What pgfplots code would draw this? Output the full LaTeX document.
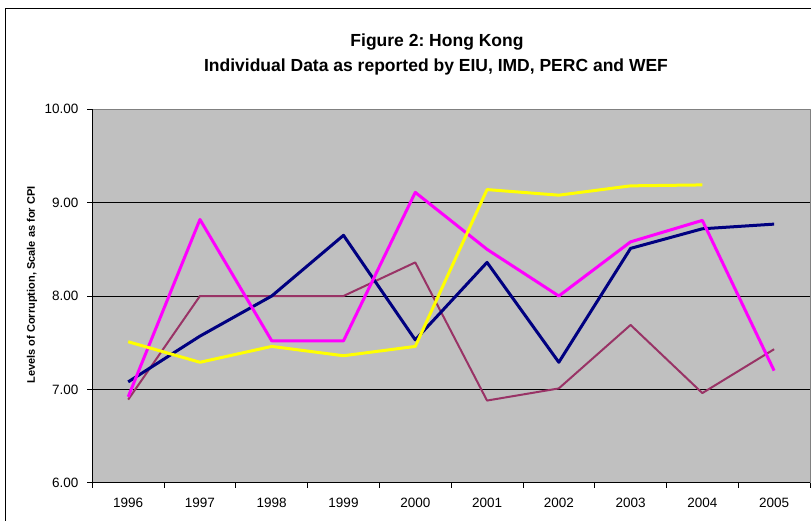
\documentclass[border=0pt]{standalone}
\usepackage{pgfplots}
\pgfplotsset{compat=1.18}
\usepackage{fontspec}
\setmainfont{Liberation Sans}
\frenchspacing
\definecolor{navyc}{HTML}{000080}
\definecolor{magc}{HTML}{FF00FF}
\definecolor{yelc}{HTML}{FFFF00}
\definecolor{marc}{HTML}{993366}
\definecolor{bgc}{HTML}{C0C0C0}
\definecolor{brd}{HTML}{808080}
\begin{document}
\begin{tikzpicture}
\useasboundingbox (0,0) rectangle (811pt,520pt);
\draw[black, line width=1pt] (5pt,-20pt) -- (5pt,511pt) -- (830pt,511pt);
\node[anchor=base, font=\fontsize{17.5}{20}\selectfont\bfseries] at (437pt,473pt) {Figure 2: Hong Kong};
\node[anchor=base, font=\fontsize{17.5}{20}\selectfont\bfseries] at (436pt,448pt) {Individual Data as reported by EIU, IMD, PERC and WEF};
\node[rotate=90, font=\fontsize{11}{13}\selectfont\bfseries] at (32pt,235pt) {Levels of Corruption, Scale as for CPI};
\begin{axis}[
  at={(92.3pt,37.3pt)}, anchor=south west,
  scale only axis, width=717.7pt, height=373.4pt,
  xmin=-0.5, xmax=9.5, ymin=6, ymax=10,
  axis x line*=bottom, axis y line*=left,
  axis line style={-, black, line width=0.8pt},
  axis background/.style={fill=bgc, draw=brd, line width=0.8pt},
  tick align=outside,
  major tick length=5pt,
  tick style={black, line width=0.8pt},
  xtick={-0.5,0.5,...,9.5}, xticklabels={},
  extra x ticks={0,1,2,3,4,5,6,7,8,9},
  extra x tick labels={1996,1997,1998,1999,2000,2001,2002,2003,2004,2005},
  extra x tick style={major tick length=0pt, xticklabel style={anchor=base, yshift=-24.3pt}},
  ytick={6,7,8,9,10},
  yticklabels={6.00,7.00,8.00,9.00,10.00},
  extra y ticks={7,8,9},
  extra y tick labels={},
  extra y tick style={grid=major, major tick length=0pt},
  major grid style={black, line width=0.7pt},
  ticklabel style={font=\fontsize{13.5}{15}\selectfont},
  yticklabel style={anchor=east, xshift=-5.3pt},
  line join=round,
]
\addplot[marc, line width=2pt] coordinates {(0,6.89) (1,8.00) (2,8.00) (3,8.00) (4,8.36) (5,6.88) (6,7.01) (7,7.69) (8,6.96) (9,7.43)};
\addplot[navyc, line width=3pt] coordinates {(0,7.08) (1,7.57) (2,8.00) (3,8.65) (4,7.53) (5,8.36) (6,7.29) (7,8.51) (8,8.72) (9,8.77)};
\addplot[magc, line width=3pt] coordinates {(0,6.92) (1,8.82) (2,7.52) (3,7.52) (4,9.11) (5,8.50) (6,8.00) (7,8.58) (8,8.81) (9,7.20)};
\addplot[yelc, line width=3pt] coordinates {(0,7.51) (1,7.29) (2,7.46) (3,7.36) (4,7.46) (5,9.14) (6,9.08) (7,9.18) (8,9.19)};
\end{axis}
\end{tikzpicture}
\end{document}
